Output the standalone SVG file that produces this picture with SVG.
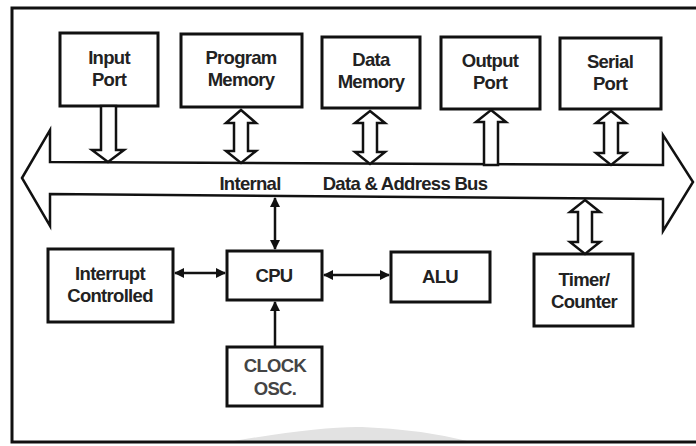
<svg xmlns="http://www.w3.org/2000/svg" width="696" height="446" viewBox="0 0 696 446">
<style>
.box{fill:#fff;stroke:#111;stroke-width:3}
.hol{fill:#fff;stroke:#111;stroke-width:2.5;stroke-linejoin:miter}
.ln{stroke:#111;stroke-width:2.5;fill:none}
text{font-family:"Liberation Sans",Arial,sans-serif;font-weight:bold;font-size:18.5px;fill:#222;text-anchor:middle;letter-spacing:-0.7px}
</style>
<defs>
<marker id="ah" viewBox="0 0 10 10" refX="9" refY="5" markerWidth="5" markerHeight="4" orient="auto-start-reverse">
<path d="M0 0 L10 5 L0 10 Z" fill="#111"/>
</marker>
</defs>
<rect width="696" height="446" fill="#fff"/>
<path d="M228 442 Q320 426 362 427 Q420 429 472 442 Z" fill="#e2e2e2"/>
<path d="M700 8 H12 V442 H700" fill="none" stroke="#111" stroke-width="3"/>

<g id="bus">
<polygon class="hol" stroke-width="3" points="22,178 50,130 50,162 663,165 663,135 693,182 663,231 663,199 50,194 50,226"/>
<text x="250" y="190">Internal</text>
<text x="405" y="190">Data &amp; Address Bus</text>
</g>

<g id="input-port"><rect class="box" x="60" y="33" width="98" height="73"/><text x="109" y="64">Input</text><text x="109" y="86">Port</text></g>
<g id="program-memory"><rect class="box" x="181" y="34" width="121" height="73"/><text x="241" y="64">Program</text><text x="241" y="86">Memory</text></g>
<g id="data-memory"><rect class="box" x="322" y="37" width="98" height="71"/><text x="371" y="66">Data</text><text x="371" y="88">Memory</text></g>
<g id="output-port"><rect class="box" x="441" y="37" width="99" height="72"/><text x="490" y="67">Output</text><text x="490" y="89">Port</text></g>
<g id="serial-port"><rect class="box" x="560" y="38" width="101" height="71"/><text x="610" y="68">Serial</text><text x="610" y="90">Port</text></g>

<g id="interrupt-controlled"><rect class="box" x="48" y="249" width="125" height="73"/><text x="110" y="280">Interrupt</text><text x="110" y="302">Controlled</text></g>
<g id="cpu"><rect class="box" x="227" y="251" width="95" height="49"/><text x="274" y="282">CPU</text></g>
<g id="alu"><rect class="box" x="391" y="252" width="99" height="50"/><text x="440" y="283">ALU</text></g>
<g id="timer-counter"><rect class="box" x="534" y="254" width="99" height="72"/><text x="584" y="286">Timer/</text><text x="584" y="308">Counter</text></g>
<g id="clock-osc"><rect class="box" x="227" y="347" width="95" height="59"/><text x="275" y="372" style="fill:#444">CLOCK</text><text x="275" y="395" style="fill:#444">OSC.</text></g>

<g id="connectors">
<polygon class="hol" points="101,106 116,106 116,150 124,150 108,162 92,150 101,150"/>
<polygon class="hol" points="241,110 256,123 248,123 248,151 256,151 241,163 226,151 234,151 234,123 226,123"/>
<polygon class="hol" points="370,111 385,123 377,123 377,152 385,152 370,164 355,152 363,152 363,123 355,123"/>
<polygon class="hol" points="491,110 506,122 498,122 498,165 484,165 484,122 476,122"/>
<polygon class="hol" points="611,111 626,123 618,123 618,153 626,153 611,165 596,153 604,153 604,123 596,123"/>
<polygon class="hol" points="585,200 600,212 592,212 592,242 600,242 585,254 570,242 578,242 578,212 570,212"/>
<line class="ln" x1="275" y1="198" x2="275" y2="249" marker-start="url(#ah)" marker-end="url(#ah)"/>
<line class="ln" x1="175" y1="273" x2="225" y2="273" marker-start="url(#ah)" marker-end="url(#ah)"/>
<line class="ln" x1="324" y1="275" x2="389" y2="275" marker-start="url(#ah)" marker-end="url(#ah)"/>
<line class="ln" x1="275" y1="347" x2="275" y2="302" marker-end="url(#ah)"/>
</g>
</svg>
